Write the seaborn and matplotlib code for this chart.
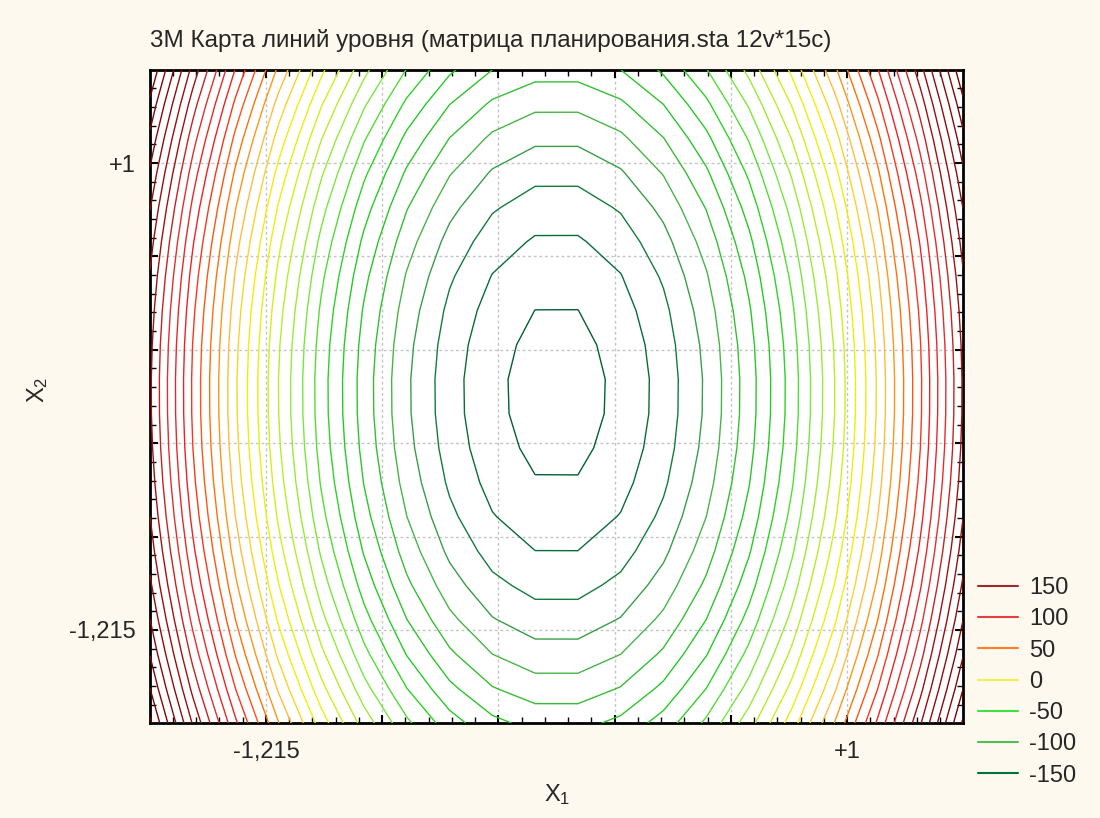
import numpy as np
import matplotlib
matplotlib.use("Agg")
import matplotlib.pyplot as plt
from matplotlib.lines import Line2D
from matplotlib.colors import Normalize, LinearSegmentedColormap
from matplotlib.ticker import FixedLocator
import seaborn as sns

# response surface (quadratic fit)
x1_center = -0.107
x2_center = -0.09
z_min = -167.5
coef_x1 = 132.9
coef_x2 = 29.6

# contour levels drawn
levels = [-162, -150, -138, -126, -114, -102, -90, -78, -66, -54, -42, -30, -18, -6,
          6, 18, 30, 42, 54, 66, 78, 90, 102, 114, 126, 138, 150,
          162, 174, 186, 198, 210, 222]

# line colour along the level scale
color_values = [-162, -140, -120, -100, -70, -40, -10, 15, 40, 60, 80, 100, 130, 150, 225]
color_stops = ['#006030', '#107a3a', '#50b050', '#30c030', '#20d020', '#80e840', '#c8f020',
               '#f8f000', '#ffc040', '#ff8000', '#ff5010', '#f02020', '#e03030', '#a01010', '#700000']

# legend
legend_values = [150, 100, 50, 0, -50, -100, -150]
legend_colors = ['#9b2a2a', '#e04040', '#ff7f27', '#f0f050', '#40e040', '#50c050', '#007040']

# axes
axis_lim = (-1.657, 1.442)
grid_ticks = [-1.215, -0.772, -0.329, 0.114, 0.557, 1.0]
grid_labels = ['-1,215', '', '', '', '', '+1']
grid_points = 20

sns.set_style("ticks")
plt.rcParams['font.family'] = ['Liberation Sans', 'DejaVu Sans']
plt.rcParams['mathtext.fontset'] = 'custom'
plt.rcParams['mathtext.rm'] = 'Liberation Sans'
plt.rcParams['mathtext.it'] = 'Liberation Sans'

bg = '#fdf9ee'
fig = plt.figure(figsize=(11, 8.18), dpi=100, facecolor=bg)
ax = fig.add_axes([150 / 1100, 1 - 723 / 818, 813 / 1100, 653 / 818])
ax.set_facecolor('white')

g = np.linspace(axis_lim[0], axis_lim[1], grid_points)
X1, X2 = np.meshgrid(g, g)
Z = z_min + coef_x1 * (X1 - x1_center) ** 2 + coef_x2 * (X2 - x2_center) ** 2

vmin, vmax = color_values[0], color_values[-1]
pos = [(v - vmin) / (vmax - vmin) for v in color_values]
cmap = LinearSegmentedColormap.from_list('levels', list(zip(pos, color_stops)))
norm = Normalize(vmin, vmax)
ax.contour(X1, X2, Z, levels=levels, cmap=cmap, norm=norm, linewidths=1.0, zorder=3)

ax.set_xlim(axis_lim)
ax.set_ylim(axis_lim)
ax.xaxis.set_major_locator(FixedLocator(grid_ticks))
ax.yaxis.set_major_locator(FixedLocator(grid_ticks))
step = (grid_ticks[1] - grid_ticks[0]) / 5
minor = [grid_ticks[0] + step * i for i in range(-5, 31) if i % 5]
ax.xaxis.set_minor_locator(FixedLocator(minor))
ax.yaxis.set_minor_locator(FixedLocator(minor))
ax.set_xticklabels(grid_labels)
ax.set_yticklabels(grid_labels)

ax.grid(True, which='major', color='#c4c4c4', linestyle=(0, (2, 2)), linewidth=1, zorder=1)
ax.tick_params(which='both', direction='in', top=True, right=True, color='black')
ax.tick_params(which='major', length=6, width=1.5, labelsize=17, pad=13)
ax.tick_params(axis='y', which='major', pad=10)
ax.tick_params(which='minor', length=4, width=1)
for s in ax.spines.values():
    s.set_linewidth(2)
    s.set_color('black')

fig.text(150 / 1100, 1 - 40 / 818, '3М Карта линий уровня (матрица планирования.sta 12v*15c)',
         fontsize=17.5, ha='left', va='center')
fig.text(557 / 1100, 1 - 795 / 818, 'X$_1$', fontsize=17, ha='center', va='center')
fig.text(38 / 1100, 1 - 390 / 818, 'X$_2$', fontsize=17, ha='center', va='center', rotation=90)

legend_palette = sns.color_palette(legend_colors)
handles = [Line2D([], [], color=c, linewidth=1.5) for c in legend_palette]
fig.legend(handles, [str(v) for v in legend_values], loc='upper left',
           bbox_to_anchor=(957 / 1100, 1 - 556 / 818), frameon=False,
           fontsize=17, handlelength=1.7, labelspacing=0.39, handletextpad=0.47)

fig.savefig('out.png', dpi=100, facecolor=bg)
